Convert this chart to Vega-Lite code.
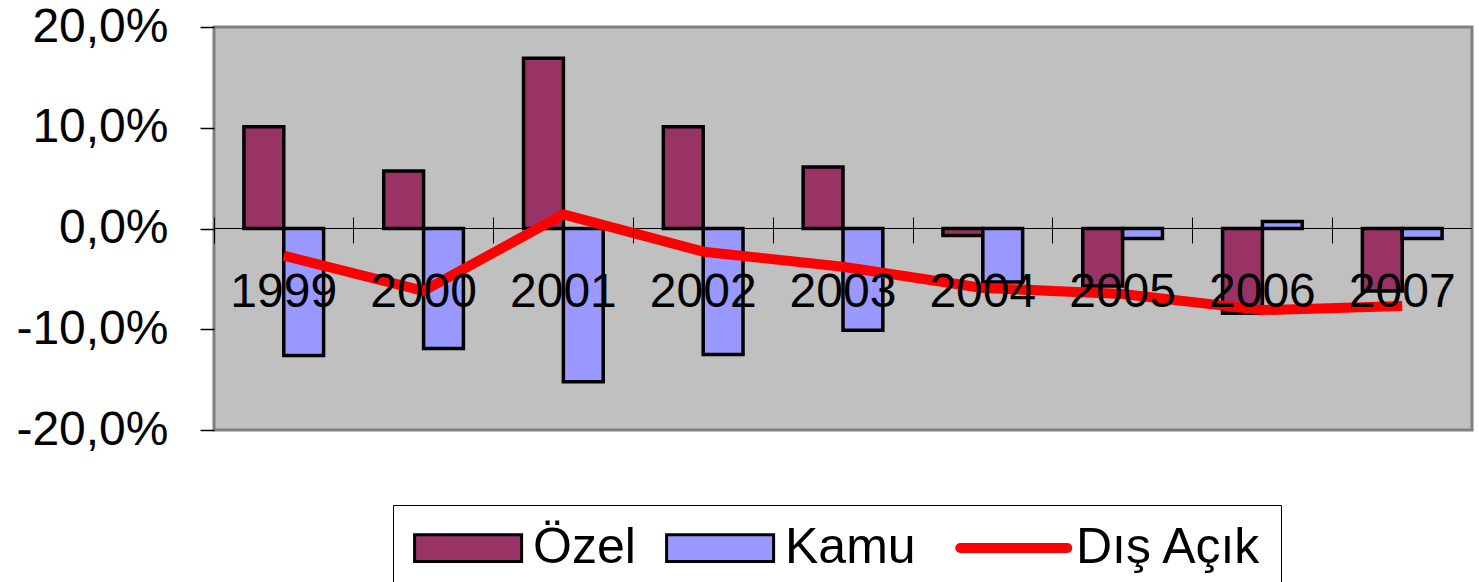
{
  "$schema": "https://vega.github.io/schema/vega-lite/v6.json",
  "autosize": {"type": "none"},
  "width": 1258,
  "height": 403,
  "padding": {"left": 214, "top": 27, "right": 7, "bottom": 152},
  "background": "#FFFFFF",
  "config": {
    "font": "Liberation Sans",
    "view": {"fill": "#C0C0C0", "stroke": "#808080", "strokeWidth": 3}
  },
  "data": {
    "values": [
      {"year": "1999", "series": "Özel", "value": 10.1},
      {"year": "1999", "series": "Kamu", "value": -12.6},
      {"year": "1999", "series": "Dış Açık", "value": -2.7},
      {"year": "2000", "series": "Özel", "value": 5.7},
      {"year": "2000", "series": "Kamu", "value": -11.9},
      {"year": "2000", "series": "Dış Açık", "value": -6.2},
      {"year": "2001", "series": "Özel", "value": 16.9},
      {"year": "2001", "series": "Kamu", "value": -15.2},
      {"year": "2001", "series": "Dış Açık", "value": 1.4},
      {"year": "2002", "series": "Özel", "value": 10.1},
      {"year": "2002", "series": "Kamu", "value": -12.5},
      {"year": "2002", "series": "Dış Açık", "value": -2.3},
      {"year": "2003", "series": "Özel", "value": 6.1},
      {"year": "2003", "series": "Kamu", "value": -10.1},
      {"year": "2003", "series": "Dış Açık", "value": -3.8},
      {"year": "2004", "series": "Özel", "value": -0.7},
      {"year": "2004", "series": "Kamu", "value": -5.3},
      {"year": "2004", "series": "Dış Açık", "value": -5.9},
      {"year": "2005", "series": "Özel", "value": -5.7},
      {"year": "2005", "series": "Kamu", "value": -1.0},
      {"year": "2005", "series": "Dış Açık", "value": -6.5},
      {"year": "2006", "series": "Özel", "value": -8.4},
      {"year": "2006", "series": "Kamu", "value": 0.7},
      {"year": "2006", "series": "Dış Açık", "value": -8.1},
      {"year": "2007", "series": "Özel", "value": -6.2},
      {"year": "2007", "series": "Kamu", "value": -1.0},
      {"year": "2007", "series": "Dış Açık", "value": -7.7}
    ]
  },
  "encoding": {
    "x": {
      "field": "year",
      "type": "nominal",
      "scale": {"paddingInner": 0.43, "paddingOuter": 0.214},
      "axis": {
        "title": null,
        "orient": "bottom",
        "offset": -213,
        "domain": false,
        "tickSize": 26,
        "tickColor": "#000000",
        "tickWidth": 1,
        "bandPosition": -0.375,
        "labelAngle": 0,
        "labelFontSize": 48,
        "labelColor": "#000000",
        "labelPadding": 25,
        "labelOverlap": false,
        "labelBound": false,
        "labelFlush": false,
        "zindex": 1
      }
    }
  },
  "layer": [
    {
      "mark": {"type": "rule", "color": "#000000", "strokeWidth": 1},
      "encoding": {"y": {"datum": 0, "type": "quantitative"}, "x": null}
    },
    {
      "transform": [{"filter": "datum.series !== 'Dış Açık'"}],
      "mark": {"type": "bar", "stroke": "#000000", "strokeWidth": 3.5, "opacity": 1},
      "encoding": {
        "xOffset": {"field": "series", "type": "nominal", "sort": ["Özel", "Kamu"], "scale": {"paddingInner": 0, "paddingOuter": 0}},
        "y": {
          "field": "value",
          "type": "quantitative",
          "scale": {"domain": [-20, 20], "nice": false, "zero": false},
          "axis": {
            "title": null,
            "values": [-20, -10, 0, 10, 20],
            "domain": false,
            "grid": false,
            "tickSize": 14,
            "tickColor": "#000000",
            "tickWidth": 1.5,
            "labelFontSize": 48,
            "labelColor": "#000000",
            "labelPadding": 32,
            "labelExpr": "replace(replace(format(datum.value, '.1f'), '.', ','), '−', '-') + '%'"
          }
        },
        "color": {
          "field": "series",
          "type": "nominal",
          "scale": {"domain": ["Özel", "Kamu", "Dış Açık"], "range": ["#993366", "#9999FF", "#FF0000"]},
          "legend": {
            "title": null,
            "orient": "none",
            "legendX": 179,
            "legendY": 478,
            "direction": "horizontal",
            "padding": 18,
            "strokeColor": "#000000",
            "fillColor": "#FFFFFF",
            "labelFontSize": 50,
            "labelColor": "#000000",
            "labelLimit": 0,
            "labelOffset": 72,
            "columnPadding": 24,
            "symbolSize": 11449,
            "symbolType": "M-0.4,-0.25L1.6,-0.25L1.6,0.25L-0.4,0.25Z",
            "symbolStrokeColor": "#000000",
            "symbolStrokeWidth": 3,
            "symbolOpacity": 1,
            "encode": {
              "symbols": {
                "update": {
                  "shape": {"signal": "datum.value === 'Dış Açık' ? 'M-0.35,0L1.65,0' : 'M-0.4,-0.25L1.6,-0.25L1.6,0.25L-0.4,0.25Z'"},
                  "stroke": {"signal": "datum.value === 'Dış Açık' ? '#FF0000' : '#000000'"},
                  "strokeWidth": {"signal": "datum.value === 'Dış Açık' ? 10 : 3"},
                  "strokeCap": {"value": "round"}
                }
              }
            }
          }
        }
      }
    },
    {
      "transform": [{"filter": "datum.series === 'Dış Açık'"}],
      "mark": {"type": "line", "strokeWidth": 10, "strokeJoin": "round", "zindex": 2},
      "encoding": {
        "y": {"field": "value", "type": "quantitative"},
        "stroke": {"field": "series", "type": "nominal", "scale": {"domain": ["Dış Açık"], "range": ["#FF0000"]}, "legend": null}
      }
    }
  ]
}
